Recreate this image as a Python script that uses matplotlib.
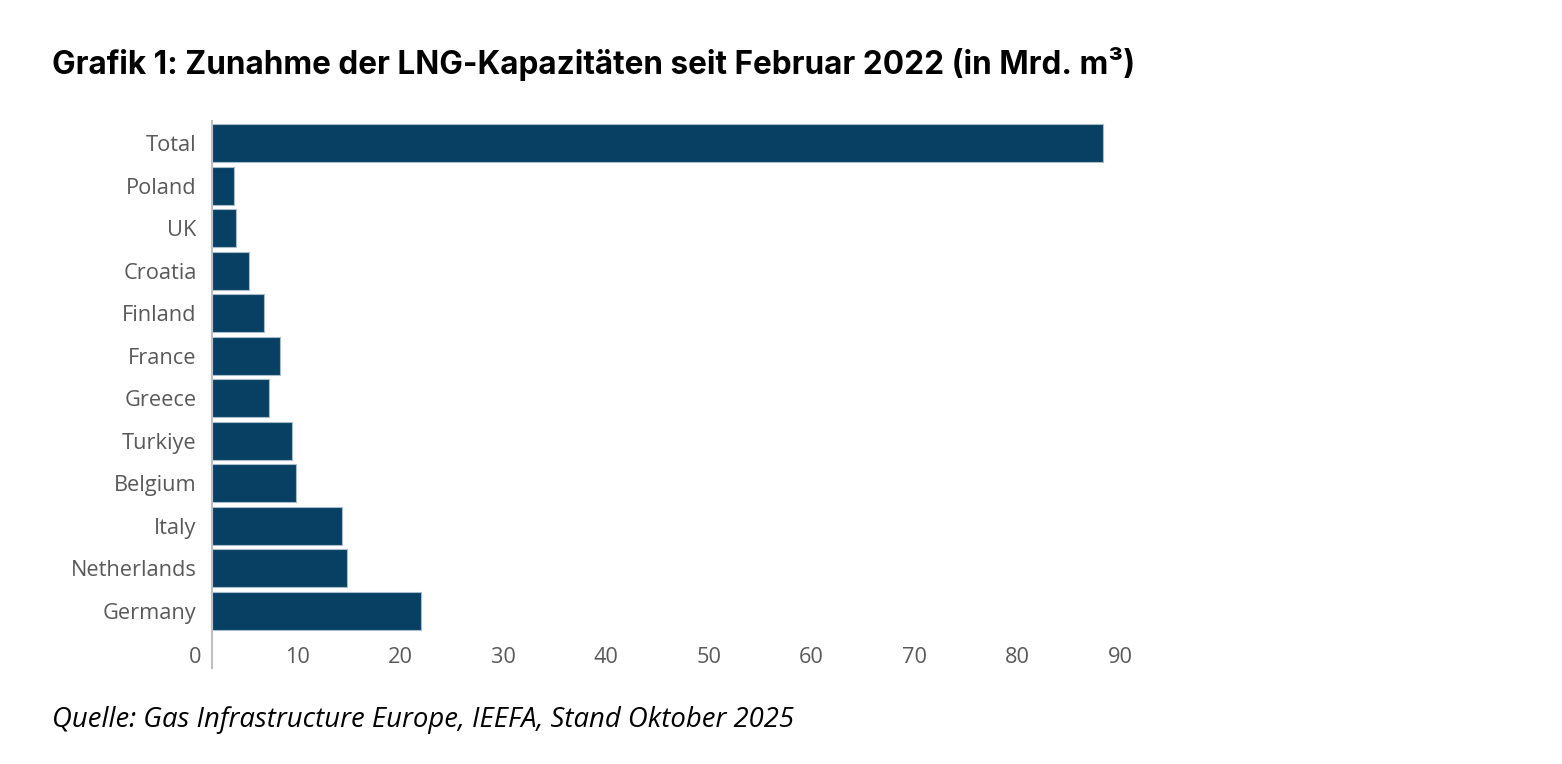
import matplotlib
matplotlib.use("Agg")
import matplotlib.pyplot as plt
import matplotlib.transforms as mtransforms

categories = ["Germany", "Netherlands", "Italy", "Belgium", "Turkiye", "Greece",
              "France", "Finland", "Croatia", "UK", "Poland", "Total"]
values = [20.3, 13.1, 12.6, 8.2, 7.8, 5.5, 6.6, 5.1, 3.6, 2.3, 2.1, 86.7]
xticks = [0, 10, 20, 30, 40, 50, 60, 70, 80, 90]

title = "Grafik 1: Zunahme der LNG-Kapazitäten seit Februar 2022 (in Mrd. m³)"
source = "Quelle: Gas Infrastructure Europe, IEEFA, Stand Oktober 2025"

W, H = 1562, 764
fig = plt.figure(figsize=(W / 100, H / 100), dpi=100)
fig.patch.set_facecolor("white")

ax = fig.add_axes([212 / W, 1 - 633 / H, (1137 - 212) / W, (633 - 121) / H])
ypos = list(range(len(categories)))
ax.barh(ypos, values, height=0.9, color="#084063", edgecolor="#a9bccb",
        linewidth=0.8, zorder=2)

lab_font = "Open Sans"
ax.set_xlim(0, 90)
ax.set_ylim(-0.52, len(categories) - 0.48)
ax.set_yticks(ypos)
ax.set_yticklabels(categories, fontsize=14.5, color="#595959", family=lab_font)
ax.set_xticks(xticks)
ax.set_xticklabels([str(t) for t in xticks], fontsize=14.5, color="#595959",
                   family=lab_font)
ax.tick_params(axis="both", length=0)
ax.tick_params(axis="y", pad=11)
ax.tick_params(axis="x", pad=10)

offset = mtransforms.ScaledTranslation(-17 / 100, 0, fig.dpi_scale_trans)
for lab in ax.get_xticklabels():
    lab.set_transform(lab.get_transform() + offset)

for s in ["top", "right", "bottom"]:
    ax.spines[s].set_visible(False)
ax.spines["left"].set_color("#bfbfbf")
ax.spines["left"].set_linewidth(1.5)
ax.plot([0, 0], [0, -35 / 512], transform=ax.transAxes, color="#bfbfbf",
        linewidth=1.5, clip_on=False, zorder=3)

t = fig.text(52 / W, 1 - 74 / H, title, fontsize=20, fontweight="bold",
             family="Inter", color="black", va="baseline", ha="left")
s = fig.text(52 / W, 1 - 727 / H, source, fontsize=16, style="italic",
             family="Open Sans", color="black", va="baseline", ha="left")

# fit text widths to the reference
fig.canvas.draw()
r = fig.canvas.get_renderer()
def fit(txt, target):
    w = txt.get_window_extent(r).width
    txt.set_fontsize(txt.get_fontsize() * target / w)
fit(t, 1083)
fit(s, 743)
nl = ax.get_yticklabels()[1]
w = nl.get_window_extent(r).width
fs = 14.5 * 126 / w
for lab in ax.get_yticklabels() + ax.get_xticklabels():
    lab.set_fontsize(fs)

fig.savefig("out.png", dpi=100, facecolor="white")
